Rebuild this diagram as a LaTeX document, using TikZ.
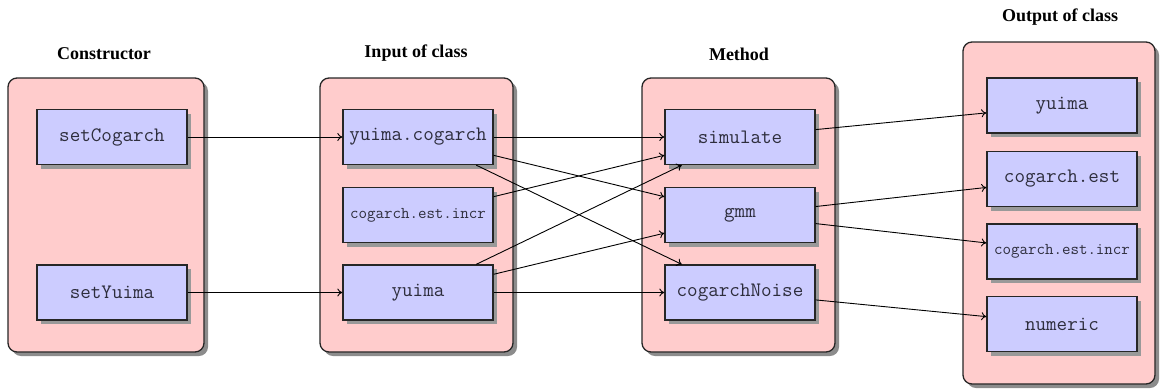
\documentclass[tikz,border=0pt]{standalone}
\usepackage{fontspec}
\setmainfont{Liberation Serif}
\usetikzlibrary{shadows,arrows.meta}
\definecolor{boxpink}{RGB}{255,204,204}
\definecolor{boxblue}{RGB}{204,204,255}
\definecolor{txt}{RGB}{45,45,60}
\tikzset{
  container/.style={draw=black!85, line width=1.3pt, fill=boxpink, rounded corners=9pt,
    drop shadow={shadow xshift=4pt, shadow yshift=-4pt, fill=black!45, opacity=1},
    inner sep=0pt},
  item/.style={draw=black!85, line width=1.3pt, fill=boxblue, minimum width=150pt, minimum height=55pt,
    drop shadow={shadow xshift=4pt, shadow yshift=-4pt, fill=black!40, opacity=1},
    inner sep=0pt, text=txt, font=\ttfamily\fontsize{20.5}{22}\selectfont},
  smallitem/.style={item, font=\ttfamily\fontsize{16.5}{18}\selectfont},
  title/.style={font=\bfseries\fontsize{18}{20}\selectfont, inner sep=0pt},
  conn/.style={-{To[length=5pt,width=8pt]}, line width=0.9pt, black}
}
\begin{document}
\begin{tikzpicture}[x=1pt,y=-1pt]
\useasboundingbox (0,0) rectangle (1160,389);
% containers
\node[container, minimum width=196pt, minimum height=274pt] (c1) at (106,215) {};
\node[container, minimum width=193pt, minimum height=274pt] (c2) at (416.5,215) {};
\node[container, minimum width=193pt, minimum height=274pt] (c3) at (738.5,215) {};
\node[container, minimum width=192pt, minimum height=342pt] (c4) at (1059,213) {};
% titles
\node[title] (t1) at (104,54) {Constructor};
\node[title] (t2) at (416,53) {Input of class};
\node[title] (t3) at (739,54) {Method};
\node[title] (t4) at (1060,17) {Output of class};
% items
\node[item] (setC) at (112,137) {setCogarch};
\node[item] (setY) at (112,292.5) {setYuima};
\node[item] (yc) at (418,137) {yuima.cogarch};
\node[smallitem] (cei) at (418,215) {cogarch.est.incr};
\node[item] (yu) at (418,292.5) {yuima};
\node[item] (sim) at (740,137) {simulate};
\node[item] (gmm) at (740,215) {gmm};
\node[item] (cn) at (740,292.5) {cogarchNoise};
\node[item] (oy) at (1062,105.5) {yuima};
\node[item] (oce) at (1062,179) {cogarch.est};
\node[smallitem] (oci) at (1062,251.5) {cogarch.est.incr};
\node[item] (on) at (1062,324) {numeric};
% connectors
\draw[conn] (setC) -- (yc);
\draw[conn] (setY) -- (yu);
\draw[conn] (yc) -- (sim);
\draw[conn] (yc) -- (gmm);
\draw[conn] (yc) -- (cn);
\draw[conn] (cei) -- (sim);
\draw[conn] (yu) -- (sim);
\draw[conn] (yu) -- (gmm);
\draw[conn] (yu) -- (cn);
\draw[conn] (sim) -- (oy);
\draw[conn] (gmm) -- (oce);
\draw[conn] (gmm) -- (oci);
\draw[conn] (cn) -- (on);
\end{tikzpicture}
\end{document}
